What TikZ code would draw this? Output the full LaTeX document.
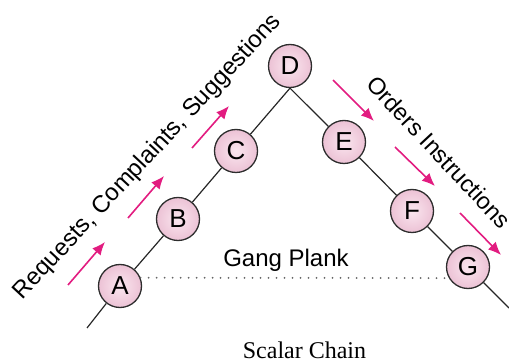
\documentclass[tikz,border=0pt]{standalone}
\usepackage{fontspec}
\setmainfont{Liberation Serif}
\newfontfamily\labelfont{Liberation Sans}
\usetikzlibrary{arrows.meta,backgrounds}
\definecolor{pinkfill}{RGB}{236,194,213}
\definecolor{pinkhi}{RGB}{250,230,239}
\definecolor{arrowmag}{RGB}{226,28,128}
\definecolor{circedge}{RGB}{45,45,45}
\tikzset{
  person/.style={circle, draw=circedge, line width=1.3pt, minimum size=43pt, inner sep=0pt,
    shading=radial, inner color=pinkhi, outer color=pinkfill,
    font=\labelfont\fontsize{26}{26}\selectfont},
  chain/.style={line width=1.2pt, draw=black!85},
  flow/.style={draw=arrowmag, line width=1.6pt, -{Latex[length=13pt,width=11pt]}},
  plank/.style={draw=black!60, line width=2pt, line cap=round, dash pattern=on 0pt off 8pt},
  lbl/.style={font=\labelfont\fontsize{24}{24}\selectfont, inner sep=0pt}
}
\begin{document}
\begin{tikzpicture}[x=1pt,y=-1pt]
\useasboundingbox (0,0) rectangle (509,363);
% nodes
\node[person] (A) at (120,286) {A};
\node[person] (B) at (178,219) {B};
\node[person] (C) at (236,151) {C};
\node[person] (D) at (290,66) {D};
\node[person] (E) at (344,142) {E};
\node[person] (F) at (412,211) {F};
\node[person] (G) at (468,267) {G};
\coordinate (L0) at (87,328);
\coordinate (R0) at (509,308);
% chain lines
\begin{scope}[on background layer]
\draw[chain] (L0) -- (A);
\draw[chain] (A) -- (B);
\draw[chain] (B) -- (C);
\draw[chain] (C) -- (D.south);
\draw[chain] (D.south) -- (E);
\draw[chain] (E) -- (F);
\draw[chain] (F) -- (G);
\draw[chain] (G) -- (R0);
\end{scope}
% gang plank
\draw[plank] (A.22) -- (G.210);
\node[lbl, anchor=base] (gp) at (286,267) {Gang Plank};
% upward arrows
\coordinate (u1s) at (68,285); \coordinate (u1e) at (105,242);
\coordinate (u2s) at (128,218); \coordinate (u2e) at (164,176);
\coordinate (u3s) at (192,148); \coordinate (u3e) at (229,106);
\draw[flow] (u1s) -- (u1e);
\draw[flow] (u2s) -- (u2e);
\draw[flow] (u3s) -- (u3e);
% downward arrows
\coordinate (d1s) at (333,80); \coordinate (d1e) at (374,121);
\coordinate (d2s) at (395,147); \coordinate (d2e) at (435,186);
\coordinate (d3s) at (460,213); \coordinate (d3e) at (501,255);
\draw[flow] (d1s) -- (d1e);
\draw[flow] (d2s) -- (d2e);
\draw[flow] (d3s) -- (d3e);
% rotated labels
\node[lbl, rotate=47] (up) at (148,157) {Requests, Complaints, Suggestions};
\node[lbl, rotate=-47, font=\labelfont\fontsize{23.5}{23.5}\selectfont] (down) at (439,152) {Orders Instructions};
% caption
\node[anchor=base, inner sep=0pt, font=\fontsize{24}{24}\selectfont] (cap) at (304.5,359) {Scalar Chain};
\end{tikzpicture}
\end{document}
